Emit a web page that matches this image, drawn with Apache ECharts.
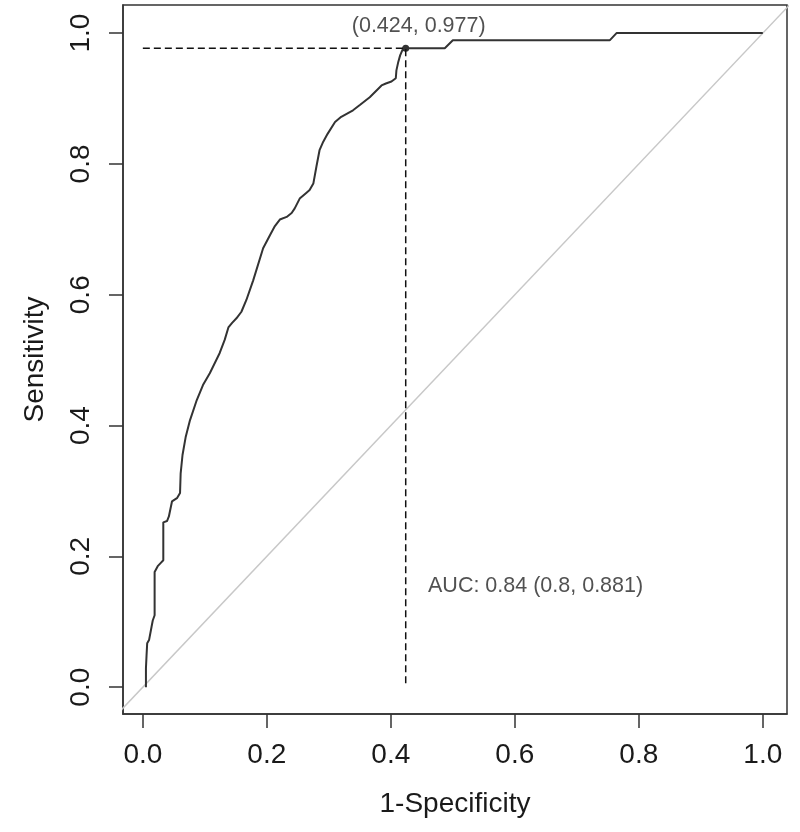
<!DOCTYPE html>
<html>
<head>
<meta charset="utf-8">
<script src="https://cdn.jsdelivr.net/npm/echarts@6/dist/echarts.min.js"></script>
<style>
  html, body { margin: 0; padding: 0; background: #fff; }
  #chart { width: 800px; height: 832px; }
</style>
</head>
<body>
<div id="chart"></div>
<script>
// ROC curve (1-specificity, sensitivity)
const fpr = [0.005, 0.005, 0.006, 0.007, 0.010, 0.014, 0.016, 0.019, 0.019, 0.024, 0.029, 0.033,
  0.033, 0.039, 0.042, 0.047, 0.050, 0.055, 0.060, 0.061, 0.064, 0.069, 0.076, 0.087, 0.097,
  0.108, 0.124, 0.132, 0.138, 0.144, 0.151, 0.159, 0.167, 0.178, 0.194, 0.205, 0.213, 0.221,
  0.232, 0.240, 0.245, 0.253, 0.264, 0.269, 0.275, 0.280, 0.285, 0.291, 0.298, 0.310, 0.320,
  0.339, 0.350, 0.366, 0.385, 0.392, 0.401, 0.408, 0.409, 0.412, 0.415, 0.420, 0.424, 0.487,
  0.500, 0.753, 0.764, 1.000]
const tpr = [0.000, 0.029, 0.049, 0.067, 0.072, 0.092, 0.102, 0.110, 0.176, 0.185, 0.190, 0.194,
  0.252, 0.254, 0.261, 0.284, 0.287, 0.289, 0.297, 0.327, 0.355, 0.382, 0.408, 0.439, 0.462,
  0.480, 0.511, 0.531, 0.550, 0.557, 0.564, 0.574, 0.592, 0.622, 0.671, 0.691, 0.705, 0.715,
  0.719, 0.725, 0.732, 0.747, 0.756, 0.760, 0.770, 0.796, 0.821, 0.834, 0.846, 0.864, 0.872,
  0.882, 0.890, 0.902, 0.920, 0.923, 0.926, 0.931, 0.943, 0.956, 0.966, 0.977, 0.977, 0.977,
  0.989, 0.989, 1.000, 1.000]

const tickValues = [0, 0.2, 0.4, 0.6, 0.8, 1.0]
const bestPoint = [0.424, 0.977]
const bestLabel = '(0.424, 0.977)'
const aucPos = [0.46, 0.155]
const aucLabel = 'AUC: 0.84 (0.8, 0.881)'

const font = 'Liberation Sans, Arial, sans-serif'
const chart = echarts.init(document.getElementById('chart'))

const axisCommon = {
  type: 'value',
  nameLocation: 'middle',
  nameTextStyle: { fontFamily: font, fontSize: 28, color: '#1a1a1a' },
  splitLine: { show: false },
  axisLine: { show: true, onZero: false, lineStyle: { color: '#333', width: 1.5 } },
  axisTick: { show: true, customValues: tickValues, length: 14, lineStyle: { color: '#333', width: 1.5 } },
  axisLabel: {
    customValues: tickValues, fontFamily: font, fontSize: 28, color: '#1a1a1a',
    formatter: v => v.toFixed(1)
  }
}

chart.setOption({
  animation: false,
  grid: { left: 123, right: 13, top: 5, bottom: 118, show: true, borderColor: '#333', borderWidth: 1.5 },
  xAxis: Object.assign({}, axisCommon, {
    min: -0.032, max: 1.039, name: '1-Specificity', nameGap: 76,
    axisLabel: Object.assign({}, axisCommon.axisLabel, { margin: 27 })
  }),
  yAxis: Object.assign({}, axisCommon, {
    min: -0.041, max: 1.043, name: 'Sensitivity', nameGap: 74,
    axisLabel: Object.assign({}, axisCommon.axisLabel, { rotate: 90, margin: 28 })
  }),
  series: [
    {
      // chance diagonal
      type: 'line', data: [[-0.1, -0.1], [1.1, 1.1]], showSymbol: false, silent: true,
      lineStyle: { color: '#c8c8c8', width: 1.5 }
    },
    {
      type: 'line', data: fpr.map((x, i) => [x, tpr[i]]), showSymbol: false,
      lineStyle: { color: '#333', width: 2 }
    },
    {
      type: 'line', data: [[0, bestPoint[1]], bestPoint, [bestPoint[0], 0]], showSymbol: false,
      lineStyle: { color: '#111', width: 1.5, type: [7, 4] }
    },
    {
      type: 'scatter', data: [bestPoint], symbolSize: 7, itemStyle: { color: '#000' },
      label: {
        show: true, formatter: bestLabel, position: 'top', offset: [13, -3],
        fontFamily: font, fontSize: 21.5, color: '#262626'
      }
    },
    {
      type: 'scatter', data: [aucPos], symbolSize: 0,
      label: {
        show: true, formatter: aucLabel, position: 'right', distance: 0,
        fontFamily: font, fontSize: 21.5, color: '#262626'
      }
    }
  ]
})
</script>
</body>
</html>
